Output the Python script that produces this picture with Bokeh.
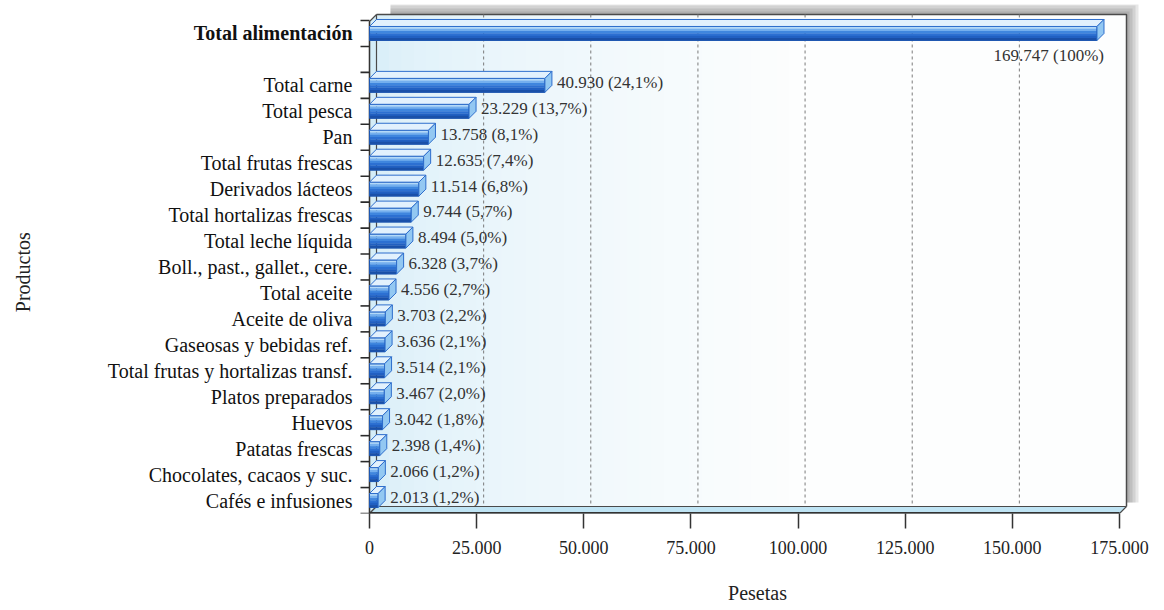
import math

from bokeh.plotting import figure
from bokeh.models import Range1d, FixedTicker, LinearAxis
from bokeh.core.properties import value
from bokeh.embed import file_html
from bokeh.resources import INLINE

# Household food spending per product (pesetas)
categories = [
    "Total alimentación", "Total carne", "Total pesca", "Pan", "Total frutas frescas",
    "Derivados lácteos", "Total hortalizas frescas", "Total leche líquida",
    "Boll., past., gallet., cere.", "Total aceite", "Aceite de oliva",
    "Gaseosas y bebidas ref.", "Total frutas y hortalizas transf.", "Platos preparados",
    "Huevos", "Patatas frescas", "Chocolates, cacaos y suc.", "Cafés e infusiones",
]
pesetas = [169747, 40930, 23229, 13758, 12635, 11514, 9744, 8494, 6328,
           4556, 3703, 3636, 3514, 3467, 3042, 2398, 2066, 2013]
x_ticks = [0, 25000, 50000, 75000, 100000, 125000, 150000, 175000]
x_tick_labels = ["0", "25.000", "50.000", "75.000", "100.000", "125.000", "150.000", "175.000"]

FONT = "Liberation Serif"


def miles(v):
    return f"{v:,}".replace(",", ".")


def pct(v, total):
    p = 100.0 * v / total
    if abs(p - 100) < 1e-9:
        return "100%"
    return f"{p:.1f}".replace(".", ",") + "%"


total = pesetas[0]
# row 0 holds the total, row 1 stays empty, the products follow
rows = [0] + list(range(2, len(categories) + 1))
n_rows = len(categories) + 1

# ---- layout (pixels) -------------------------------------------------------
W, H = 1164, 610
B_RIGHT, B_TOP, B_BOTTOM = 22, 4, 97
FRAME_W = W - B_RIGHT
ZERO_PX = 369                       # pixel column of the value 0
AXIS_PX = 750                       # pixels spanned by 0 .. 175.000
X_MAX = x_ticks[-1]
ux = X_MAX / AXIS_PX                # data units per pixel (x)
x_start = -ZERO_PX * ux
x_end = (FRAME_W - ZERO_PX) * ux
ROW_PX = 25.95
uy = 1 / ROW_PX                     # data units per pixel (y)
y_bottom = n_rows - 0.5
y_top = -0.5 - 16 * uy

DX = 7 * ux                         # depth of the 3-D effect
DY = -7 * uy
WALL_TOP = -0.5 - 6 * uy
FLOOR_BACK = y_bottom + DY

p = figure(width=W, height=H, output_backend="svg", toolbar_location=None,
           x_range=Range1d(x_start, x_end), y_range=Range1d(y_bottom, y_top),
           y_axis_location=None,
           min_border_left=0, min_border_right=B_RIGHT,
           min_border_top=B_TOP, min_border_bottom=B_BOTTOM)
p.background_fill_color = "white"
p.border_fill_color = "white"
p.outline_line_color = None
p.xgrid.grid_line_color = None
p.ygrid.grid_line_color = None

# ---- shadow behind the box -------------------------------------------------
for k in (12, 9, 6, 3):
    p.quad(left=[DX + 14 * ux], right=[X_MAX + DX + k * ux],
           top=[WALL_TOP - k * uy], bottom=[WALL_TOP],
           fill_color="#3a3a3a", fill_alpha=0.12, line_color=None)
    p.quad(left=[X_MAX + DX], right=[X_MAX + DX + k * ux],
           top=[WALL_TOP], bottom=[FLOOR_BACK - 4 * uy],
           fill_color="#3a3a3a", fill_alpha=0.12, line_color=None)

# ---- back wall with a soft left-to-right tint --------------------------------
c0 = (218, 239, 249)
c1 = (253, 254, 254)
n_strips = 60
step = X_MAX / n_strips
for i in range(n_strips):
    t = min(1.0, (i / (n_strips * 0.55)) ** 0.6)
    col = "#%02x%02x%02x" % tuple(int(a + (b - a) * t) for a, b in zip(c0, c1))
    p.quad(left=[DX + i * step], right=[DX + (i + 1) * step + 0.5 * ux],
           top=[WALL_TOP], bottom=[FLOOR_BACK], fill_color=col, line_color=None)
p.line(x=[DX, X_MAX + DX, X_MAX + DX], y=[WALL_TOP, WALL_TOP, FLOOR_BACK],
       line_color="#4a4a4a", line_width=1.5)

# dashed grid on the back wall
grid_x = [t + DX for t in x_ticks[1:-1]]
p.segment(x0=grid_x, y0=[WALL_TOP] * len(grid_x), x1=grid_x, y1=[FLOOR_BACK] * len(grid_x),
          line_color="#7a7a7a", line_dash="3 3", line_width=1)

# left wall and floor
p.patch(x=[0, DX, DX, 0], y=[y_bottom, FLOOR_BACK, WALL_TOP, WALL_TOP - DY],
        fill_color="#d4edf8", line_color="#4a4a4a", line_width=1.2)
p.patch(x=[0, X_MAX, X_MAX + DX, DX], y=[y_bottom, y_bottom, FLOOR_BACK, FLOOR_BACK],
        fill_color="#bfe4f4", line_color="#4a4a4a", line_width=1.2)
p.segment(x0=[0], y0=[y_bottom - 0.6 * uy], x1=[X_MAX], y1=[y_bottom - 0.6 * uy],
          line_color="#333333", line_width=1.6)
p.segment(x0=[0], y0=[WALL_TOP - DY], x1=[0], y1=[y_bottom],
          line_color="#333333", line_width=1.4)

# ---- 3-D bars ----------------------------------------------------------------
BAR_H = 14 * uy
stripe_cols = ["#b3d9f8", "#74afee", "#3f86de", "#2c70d2", "#2160c2", "#1a50a8"]
ns = len(stripe_cols)
for j, col in enumerate(stripe_cols):
    yc = [r - BAR_H / 2 + (j + 0.5) * BAR_H / ns for r in rows]
    p.hbar(y=yc, left=0, right=pesetas, height=BAR_H / ns + 0.3 * uy,
           fill_color=col, line_color=None)
p.hbar(y=rows, left=0, right=pesetas, height=BAR_H, fill_color=None,
       line_color="#1d56b0", line_width=1)

top_xs, top_ys, side_xs, side_ys = [], [], [], []
for r, v in zip(rows, pesetas):
    yt = r - BAR_H / 2
    yb = r + BAR_H / 2
    top_xs.append([0, v, v + DX, DX])
    top_ys.append([yt, yt, yt + DY, yt + DY])
    side_xs.append([v, v + DX, v + DX, v])
    side_ys.append([yt, yt + DY, yb + DY, yb])
p.patches(xs=top_xs, ys=top_ys, fill_color="#e2f1fd", line_color="#2d6dcc", line_width=1)
p.patches(xs=side_xs, ys=side_ys, fill_color="#93c8f2", line_color="#2d6dcc", line_width=1)

# ---- value labels --------------------------------------------------------------
texts = [f"{miles(v)} ({pct(v, total)})" for v in pesetas]
p.text(x=[pesetas[0] + DX], y=[rows[0] + 0.85], text=[texts[0]],
       text_align="right", text_baseline="middle", text_color="#333333",
       text_font=value(FONT), text_font_size="17px")
p.text(x=[v + DX for v in pesetas[1:]], y=[r - 0.12 for r in rows[1:]], text=texts[1:],
       x_offset=5, text_align="left", text_baseline="middle", text_color="#333333",
       text_font=value(FONT), text_font_size="17px")

# ---- product axis: row separators, names and title -----------------------------
bounds = [k - 0.5 for k in range(n_rows + 1)]
tick_xs = [[-9 * ux, 0] for _ in bounds]
tick_ys = [[b, b] for b in bounds]
p.multi_line(xs=tick_xs, ys=tick_ys, line_color="#2a2a2a", line_width=1.6)
p.text(x=[0] * (len(rows) - 1), y=rows[1:], text=categories[1:], x_offset=-17,
       text_align="right", text_baseline="middle", text_color="#111111",
       text_font=value(FONT), text_font_size="20px")
p.text(x=[0], y=[rows[0]], text=[categories[0]], x_offset=-17,
       text_align="right", text_baseline="middle", text_color="#111111",
       text_font=value(FONT), text_font_size="20px", text_font_style="bold")
p.text(x=[-347 * ux], y=[9.2], text=["Productos"], angle=math.pi / 2,
       text_align="center", text_baseline="middle", text_color="#222222",
       text_font=value(FONT), text_font_size="20px")

# ---- value axis ----------------------------------------------------------------
xa = p.xaxis[0]
xa.ticker = FixedTicker(ticks=x_ticks)
xa.major_label_overrides = {t: s for t, s in zip(x_ticks, x_tick_labels)}
xa.axis_line_color = None
xa.major_tick_in = 0
xa.major_tick_out = 15
xa.major_tick_line_color = "#333333"
xa.major_tick_line_width = 1.5
xa.minor_tick_line_color = None
xa.major_label_standoff = 12
xa.major_label_text_font = FONT
xa.major_label_text_font_size = "18px"
xa.major_label_text_color = "#222222"

# axis title, centred under the value span
title_pos = (757 - ZERO_PX) * ux
title_axis = LinearAxis(ticker=FixedTicker(ticks=[title_pos]),
                        major_label_overrides={title_pos: "Pesetas"})
title_axis.axis_line_color = None
title_axis.major_tick_line_color = None
title_axis.minor_tick_line_color = None
title_axis.major_tick_in = 0
title_axis.major_tick_out = 0
title_axis.major_label_standoff = 25
title_axis.major_label_text_font = FONT
title_axis.major_label_text_font_size = "20px"
title_axis.major_label_text_color = "#222222"
p.add_layout(title_axis, "below")

open("out.html", "w").write(file_html(p, INLINE))
